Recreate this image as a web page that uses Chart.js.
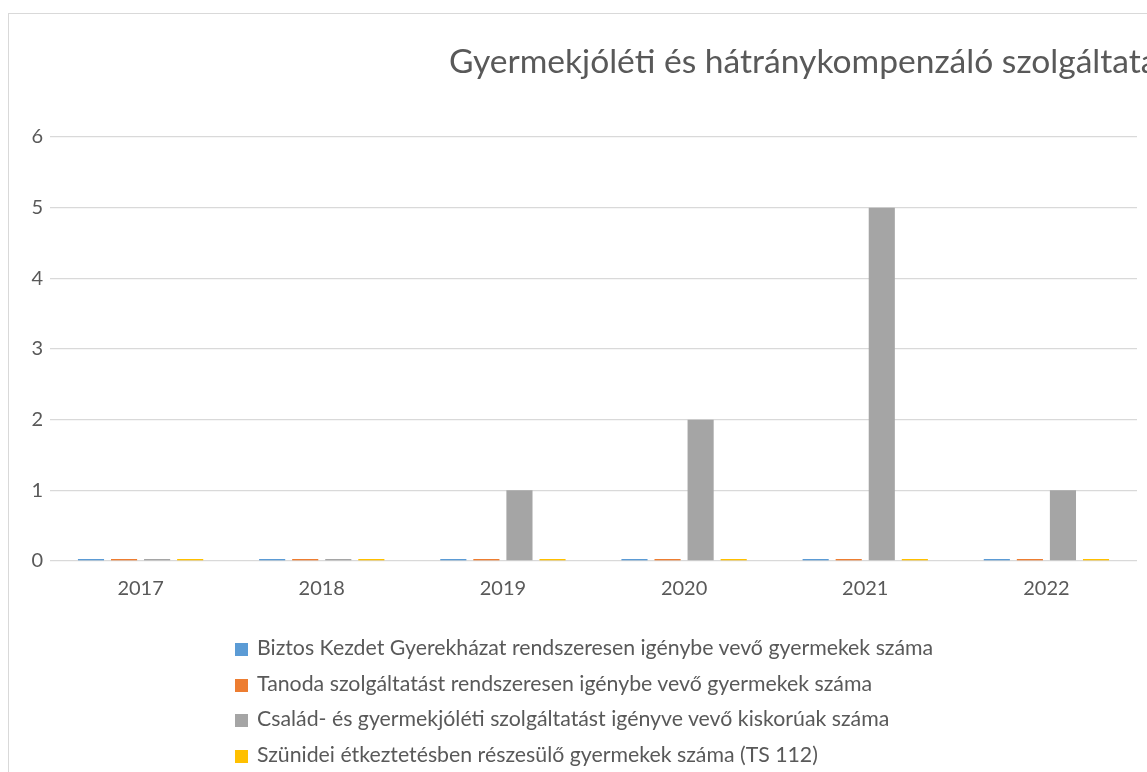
<!DOCTYPE html>
<html>
<head>
<meta charset="utf-8">
<script src="https://cdn.jsdelivr.net/npm/chart.js@4.4.1/dist/chart.umd.min.js"></script>
<style>
  html, body { margin: 0; padding: 0; background: #fff; overflow: hidden; }
  #wrap { position: relative; width: 1147px; height: 772px; overflow: hidden; }
  #frame { position: absolute; left: 8px; top: 13px; width: 2000px; height: 2000px; border: 1px solid #d9d9d9; box-sizing: border-box; }
  #myChart { position: absolute; left: 0; top: 0; }
  #legend { position: absolute; left: 235px; top: 630px; font-family: Lato, "Open Sans", sans-serif; font-size: 21.3px; color: #595959; }
  #legend div { height: 35.5px; line-height: 35.5px; white-space: nowrap; }
  #legend span { display: inline-block; width: 13px; height: 13px; margin-right: 9px; vertical-align: -1px; }
</style>
</head>
<body>
<div id="wrap">
  <div id="frame"></div>
  <canvas id="myChart" width="1147" height="772"></canvas>
  <div id="legend"></div>
</div>
<script>
const title = 'Gyermekjóléti és hátránykompenzáló szolgáltatások';
const years = ['2017', '2018', '2019', '2020', '2021', '2022'];
const seriesNames = [
    'Biztos Kezdet Gyerekházat rendszeresen igénybe vevő gyermekek száma',
    'Tanoda szolgáltatást rendszeresen igénybe vevő gyermekek száma',
    'Család- és gyermekjóléti szolgáltatást igényve vevő kiskorúak száma',
    'Szünidei étkeztetésben részesülő gyermekek száma (TS 112)'
];
const biztosKezdet = [0, 0, 0, 0, 0, 0];
const tanoda = [0, 0, 0, 0, 0, 0];
const csaladGyermekjoleti = [0, 0, 1, 2, 5, 1];
const szunideiEtkeztetes = [0, 0, 0, 0, 0, 0];
const colors = ['#5b9bd5', '#ed7d31', '#a5a5a5', '#ffc000'];

const seriesValues = [biztosKezdet, tanoda, csaladGyermekjoleti, szunideiEtkeztetes];

// title is drawn by hand so it can run off the right edge like the original
const titlePlugin = {
    id: 'leftTitle',
    afterDraw(chart) {
        const c = chart.ctx;
        c.save();
        c.font = '33.6px Lato, "Open Sans", sans-serif';
        c.fillStyle = '#595959';
        c.textBaseline = 'middle';
        c.fillText(title, 449, 62);
        c.restore();
    }
};

const ctx = document.getElementById('myChart');
const chart = new Chart(ctx, {
    type: 'bar',
    data: {
        labels: years,
        datasets: seriesValues.map((vals, i) => ({
            label: seriesNames[i],
            data: vals,
            backgroundColor: colors[i],
            minBarLength: 2,
            categoryPercentage: 0.73,
            barPercentage: 0.79
        }))
    },
    options: {
        responsive: false,
        animation: false,
        layout: { padding: { top: 137, right: 10, bottom: 171, left: 0 } },
        plugins: {
            legend: { display: false },
            tooltip: { enabled: false }
        },
        scales: {
            x: {
                grid: { display: false },
                border: { display: false },
                ticks: { color: '#595959', font: { family: 'Lato', size: 20 }, padding: 8 },
                afterFit(scale) { scale.height = 40; }
            },
            y: {
                min: 0,
                max: 6,
                grid: { color: '#d9d9d9', lineWidth: 1.3, drawTicks: false },
                border: { display: false },
                ticks: { stepSize: 1, color: '#595959', font: { family: 'Lato', size: 20 }, padding: 7 },
                afterFit(scale) { scale.width = 50; }
            }
        }
    },
    plugins: [titlePlugin]
});

const legend = document.getElementById('legend');
seriesNames.forEach((name, i) => {
    const row = document.createElement('div');
    const box = document.createElement('span');
    box.style.background = colors[i];
    row.appendChild(box);
    row.appendChild(document.createTextNode(name));
    legend.appendChild(row);
});
</script>
</body>
</html>
